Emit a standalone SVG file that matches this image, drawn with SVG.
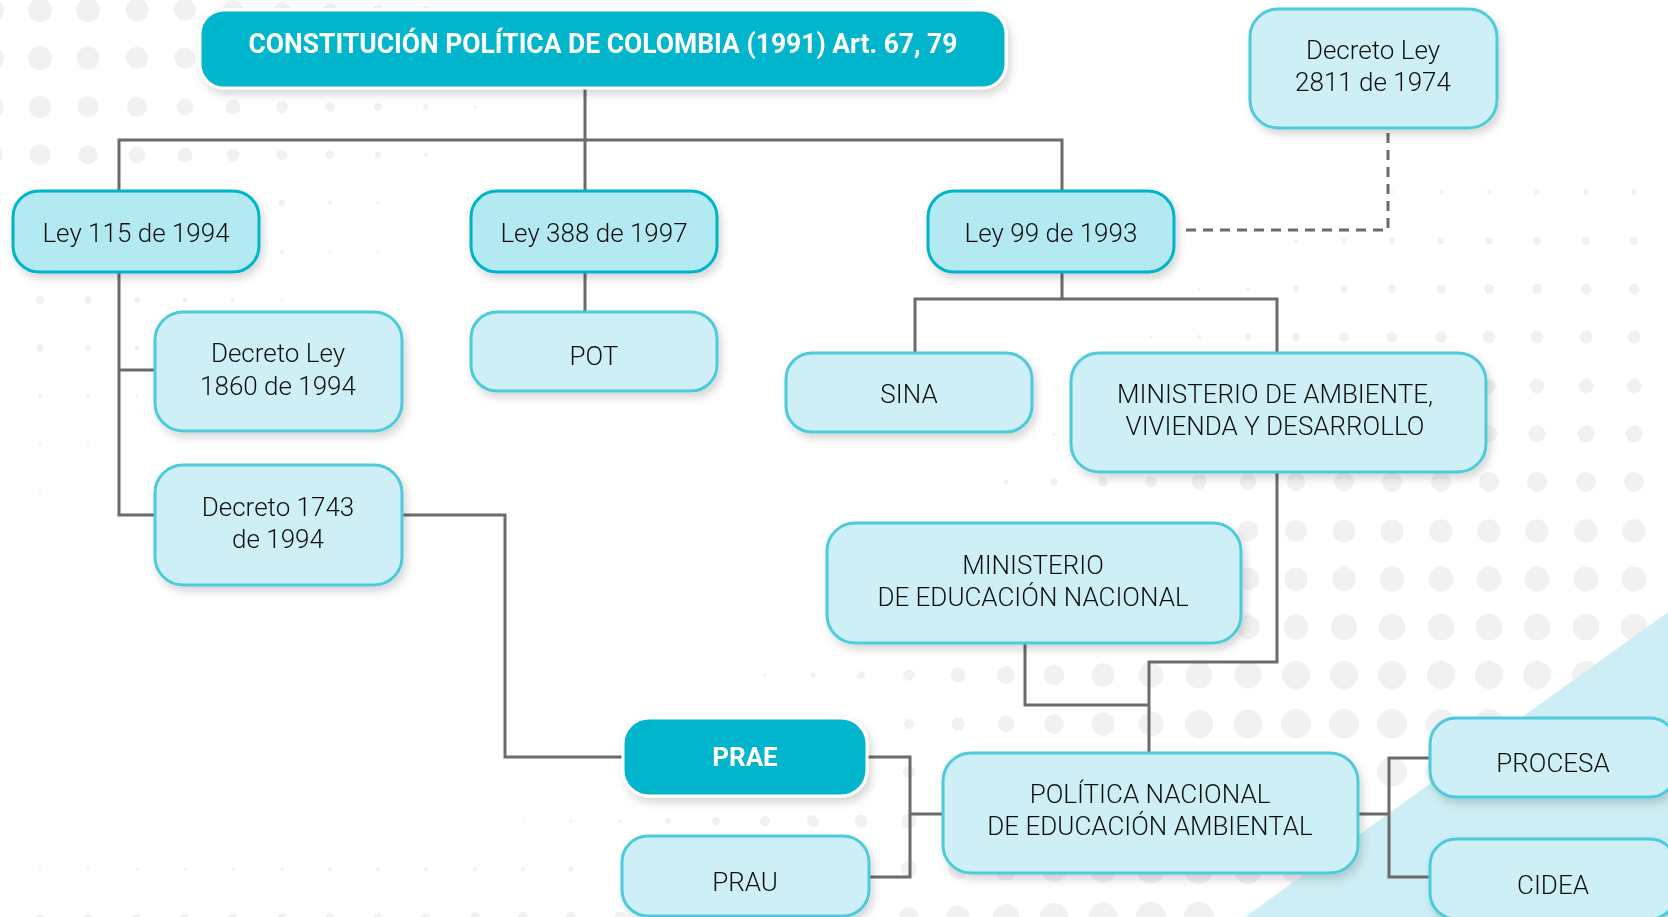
<svg xmlns="http://www.w3.org/2000/svg" width="1668" height="917" viewBox="0 0 1668 917">
<defs>
<filter id="sh" x="-20%" y="-20%" width="140%" height="150%">
<feDropShadow dx="3" dy="5" stdDeviation="4" flood-color="#000" flood-opacity="0.16"/>
</filter>
<style>
.lv1{fill:#b3e9f1;stroke:#00b4ca;stroke-width:3}
.lv2{fill:#cdeff5;stroke:#4dcadb;stroke-width:3}
.dark{fill:#00b5cc;stroke:#ffffff;stroke-width:3}
.t{font-family:Roboto,"Liberation Sans",sans-serif;font-weight:300;font-size:26px;fill:#111111;text-anchor:middle}
.tb{font-family:Roboto,"Liberation Sans",sans-serif;font-weight:700;fill:#ffffff;text-anchor:middle}
.c{fill:none;stroke:#6b6b6b;stroke-width:3}
.d{fill:none;stroke:#6b6b6b;stroke-width:3;stroke-dasharray:10 7}
</style>
</defs>
<rect width="1668" height="917" fill="#ffffff"/>
<g id="background" fill="#f1f1f1">
<circle cx="-8" cy="10" r="12"/><circle cx="40" cy="10" r="12"/><circle cx="88" cy="10" r="12"/><circle cx="137" cy="10" r="11.5"/><circle cx="185" cy="10" r="11"/><circle cx="233" cy="10" r="10"/><circle cx="282" cy="10" r="8"/><circle cx="330" cy="10" r="7"/><circle cx="378" cy="10" r="5.5"/><circle cx="426" cy="10" r="4"/><circle cx="475" cy="10" r="2.5"/>
<circle cx="-8" cy="58" r="12"/><circle cx="40" cy="58" r="12"/><circle cx="88" cy="58" r="11.5"/><circle cx="137" cy="58" r="11"/><circle cx="185" cy="58" r="10.5"/>
<circle cx="-8" cy="107" r="11.5"/><circle cx="40" cy="107" r="11"/><circle cx="88" cy="107" r="10.6"/><circle cx="137" cy="107" r="10"/><circle cx="185" cy="107" r="8.5"/><circle cx="233" cy="107" r="7.5"/><circle cx="282" cy="107" r="6"/><circle cx="330" cy="107" r="5"/><circle cx="378" cy="107" r="4"/><circle cx="426" cy="107" r="2.7"/><circle cx="475" cy="107" r="1.6"/>
<circle cx="-8" cy="155" r="10.5"/><circle cx="40" cy="155" r="10.5"/><circle cx="88" cy="155" r="9.5"/><circle cx="137" cy="155" r="8.5"/><circle cx="185" cy="155" r="7.5"/><circle cx="233" cy="155" r="6.4"/><circle cx="282" cy="155" r="5.3"/><circle cx="330" cy="155" r="4.3"/><circle cx="378" cy="155" r="3.2"/><circle cx="426" cy="155" r="2"/>
<circle cx="-8" cy="203" r="7"/><circle cx="282" cy="203" r="3.5"/><circle cx="330" cy="203" r="2.5"/><circle cx="378" cy="203" r="1.5"/>
<circle cx="282" cy="252" r="2"/><circle cx="330" cy="252" r="1.5"/><circle cx="378" cy="252" r="1"/>
<circle cx="40" cy="300" r="4"/><circle cx="88" cy="300" r="3.5"/><circle cx="137" cy="300" r="3"/><circle cx="185" cy="300" r="2.5"/><circle cx="233" cy="300" r="2"/><circle cx="282" cy="300" r="1.5"/>
<circle cx="40" cy="348" r="3.5"/><circle cx="88" cy="348" r="3"/><circle cx="137" cy="348" r="2.5"/>
<circle cx="40" cy="396" r="2.5"/><circle cx="88" cy="396" r="2"/><circle cx="137" cy="396" r="1.5"/>
<circle cx="40" cy="445" r="1.5"/><circle cx="88" cy="445" r="1.2"/>
<circle cx="40" cy="493" r="1.2"/><circle cx="88" cy="493" r="1"/>
<circle cx="1296" cy="192" r="1"/><circle cx="1344" cy="192" r="1.5"/><circle cx="1392" cy="192" r="1.8"/><circle cx="1441" cy="192" r="2"/><circle cx="1489" cy="192" r="2.3"/><circle cx="1537" cy="192" r="2.5"/><circle cx="1586" cy="192" r="2.7"/><circle cx="1634" cy="192" r="3"/>
<circle cx="1248" cy="241" r="1"/><circle cx="1296" cy="241" r="1.8"/><circle cx="1344" cy="241" r="2.4"/><circle cx="1392" cy="241" r="3"/><circle cx="1441" cy="241" r="3.3"/><circle cx="1489" cy="241" r="3.6"/><circle cx="1537" cy="241" r="3.9"/><circle cx="1586" cy="241" r="4"/><circle cx="1634" cy="241" r="4"/>
<circle cx="1199" cy="289" r="1"/><circle cx="1248" cy="289" r="2"/><circle cx="1296" cy="289" r="3"/><circle cx="1344" cy="289" r="3.8"/><circle cx="1392" cy="289" r="4.4"/><circle cx="1441" cy="289" r="4.8"/><circle cx="1489" cy="289" r="5.1"/><circle cx="1537" cy="289" r="5.3"/><circle cx="1586" cy="289" r="5.3"/><circle cx="1634" cy="289" r="5.3"/>
<circle cx="1151" cy="337" r="1"/><circle cx="1199" cy="337" r="2"/><circle cx="1248" cy="337" r="3.2"/><circle cx="1296" cy="337" r="4.2"/><circle cx="1344" cy="337" r="5"/><circle cx="1392" cy="337" r="5.6"/><circle cx="1441" cy="337" r="6"/><circle cx="1489" cy="337" r="6.3"/><circle cx="1537" cy="337" r="6.3"/><circle cx="1586" cy="337" r="6.5"/><circle cx="1634" cy="337" r="6.5"/>
<circle cx="1054" cy="386" r="1"/><circle cx="1489" cy="386" r="7"/><circle cx="1537" cy="386" r="7.3"/><circle cx="1586" cy="386" r="7.5"/><circle cx="1634" cy="386" r="7.5"/>
<circle cx="1006" cy="434" r="1"/><circle cx="1054" cy="434" r="1.8"/><circle cx="1489" cy="434" r="8.3"/><circle cx="1537" cy="434" r="8.5"/><circle cx="1586" cy="434" r="8.5"/><circle cx="1634" cy="434" r="8.5"/>
<circle cx="1006" cy="482" r="2.5"/><circle cx="1054" cy="482" r="3.7"/><circle cx="1103" cy="482" r="5"/><circle cx="1151" cy="482" r="5.8"/><circle cx="1199" cy="482" r="7.5"/><circle cx="1248" cy="482" r="8.3"/><circle cx="1296" cy="482" r="9.2"/><circle cx="1344" cy="482" r="9.7"/><circle cx="1392" cy="482" r="10"/><circle cx="1441" cy="482" r="10"/><circle cx="1489" cy="482" r="10"/><circle cx="1537" cy="482" r="10"/><circle cx="1586" cy="482" r="10"/><circle cx="1634" cy="482" r="10"/>
<circle cx="1248" cy="531" r="10.3"/><circle cx="1296" cy="531" r="10.8"/><circle cx="1344" cy="531" r="11.3"/><circle cx="1392" cy="531" r="11.7"/><circle cx="1441" cy="531" r="11.7"/><circle cx="1489" cy="531" r="11.7"/><circle cx="1537" cy="531" r="11.7"/><circle cx="1586" cy="531" r="11.7"/><circle cx="1634" cy="531" r="11.7"/>
<circle cx="1248" cy="579" r="11.3"/><circle cx="1296" cy="579" r="11.7"/><circle cx="1344" cy="579" r="12"/><circle cx="1392" cy="579" r="12.5"/><circle cx="1441" cy="579" r="12.5"/><circle cx="1489" cy="579" r="12.5"/><circle cx="1537" cy="579" r="12.5"/><circle cx="1586" cy="579" r="12.5"/><circle cx="1634" cy="579" r="12.5"/>
<circle cx="1248" cy="627" r="12"/><circle cx="1296" cy="627" r="12.5"/><circle cx="1344" cy="627" r="13"/><circle cx="1392" cy="627" r="13.3"/><circle cx="1441" cy="627" r="13.3"/><circle cx="1489" cy="627" r="13.3"/><circle cx="1537" cy="627" r="13.3"/><circle cx="1586" cy="627" r="13.3"/><circle cx="1634" cy="627" r="13.3"/>
<circle cx="765" cy="675" r="1.5"/><circle cx="813" cy="675" r="2.5"/><circle cx="861" cy="675" r="3.7"/><circle cx="909" cy="675" r="5.8"/><circle cx="958" cy="675" r="7.5"/><circle cx="1006" cy="675" r="9"/><circle cx="1054" cy="675" r="10.3"/><circle cx="1103" cy="675" r="11.7"/><circle cx="1151" cy="675" r="12.5"/><circle cx="1199" cy="675" r="13.3"/><circle cx="1248" cy="675" r="13.7"/><circle cx="1296" cy="675" r="14"/><circle cx="1344" cy="675" r="14"/><circle cx="1392" cy="675" r="14"/><circle cx="1441" cy="675" r="14"/><circle cx="1489" cy="675" r="14"/><circle cx="1537" cy="675" r="14"/><circle cx="1586" cy="675" r="14"/>
<circle cx="909" cy="724" r="5"/><circle cx="958" cy="724" r="6.5"/><circle cx="1006" cy="724" r="8.3"/><circle cx="1054" cy="724" r="10"/><circle cx="1103" cy="724" r="11.5"/><circle cx="1151" cy="724" r="12.5"/><circle cx="1199" cy="724" r="14"/><circle cx="1248" cy="724" r="14.5"/><circle cx="1296" cy="724" r="15"/><circle cx="1344" cy="724" r="15"/><circle cx="1392" cy="724" r="15"/><circle cx="1441" cy="724" r="15"/><circle cx="1489" cy="724" r="15"/>
<circle cx="909" cy="772" r="6"/><circle cx="1392" cy="772" r="15"/><circle cx="1441" cy="772" r="15"/>
<circle cx="523" cy="821" r="1"/><circle cx="571" cy="821" r="1.5"/><circle cx="620" cy="821" r="2"/><circle cx="668" cy="821" r="3"/><circle cx="716" cy="821" r="4"/><circle cx="765" cy="821" r="5"/><circle cx="813" cy="821" r="6"/><circle cx="861" cy="821" r="6.5"/><circle cx="909" cy="821" r="7.5"/>
<circle cx="40" cy="869" r="1.3"/><circle cx="88" cy="869" r="1.4"/><circle cx="137" cy="869" r="1.5"/><circle cx="185" cy="869" r="1.6"/><circle cx="233" cy="869" r="1.7"/><circle cx="282" cy="869" r="1.8"/><circle cx="330" cy="869" r="1.9"/><circle cx="378" cy="869" r="2"/><circle cx="426" cy="869" r="2.1"/><circle cx="475" cy="869" r="2.2"/><circle cx="523" cy="869" r="2.3"/><circle cx="571" cy="869" r="2.5"/><circle cx="909" cy="869" r="8"/><circle cx="958" cy="869" r="10"/><circle cx="1006" cy="869" r="11.5"/><circle cx="1054" cy="869" r="13"/><circle cx="1103" cy="869" r="14"/><circle cx="1151" cy="869" r="14.5"/><circle cx="1199" cy="869" r="15"/><circle cx="1248" cy="869" r="15"/><circle cx="1296" cy="869" r="15"/>
<circle cx="40" cy="917" r="3"/><circle cx="88" cy="917" r="3.2"/><circle cx="137" cy="917" r="3.4"/><circle cx="185" cy="917" r="3.6"/><circle cx="233" cy="917" r="3.8"/><circle cx="282" cy="917" r="4"/><circle cx="330" cy="917" r="4.2"/><circle cx="378" cy="917" r="4.4"/><circle cx="426" cy="917" r="4.6"/><circle cx="475" cy="917" r="4.8"/><circle cx="523" cy="917" r="5"/><circle cx="571" cy="917" r="5.3"/><circle cx="620" cy="917" r="5.6"/><circle cx="909" cy="917" r="10"/><circle cx="958" cy="917" r="11.5"/><circle cx="1006" cy="917" r="13"/><circle cx="1054" cy="917" r="14"/><circle cx="1103" cy="917" r="14.5"/><circle cx="1151" cy="917" r="15"/><circle cx="1199" cy="917" r="15"/>
<polygon points="1668,612 1245,917 1668,917" fill="#cdeef5"/>
</g>
<g id="connectors">
<path class="c" d="M585,89 V140 M119,191 V140 H1062 V191 M585,140 V191"/>
<path class="c" d="M119,272 V515 H155 M119,370 H155"/>
<path class="c" d="M585,272 V312"/>
<path class="c" d="M1062,272 V299 M915,353 V299 H1277 V353"/>
<path class="d" d="M1186,230 H1388 V133"/>
<path class="c" d="M1277,472 V662 H1149 V753"/>
<path class="c" d="M1025,643 V705 H1149"/>
<path class="c" d="M402,515 H505 V757 H623"/>
<path class="c" d="M867,757 H910 V877 H869 M910,814 H943"/>
<path class="c" d="M1358,814 H1389 M1430,758 H1389 V877 H1430"/>
</g>
<g id="n-constitucion" filter="url(#sh)">
<rect class="dark" x="200" y="10" width="806" height="78" rx="24"/>
<text class="tb" x="603" y="53" font-size="27" textLength="709" lengthAdjust="spacingAndGlyphs">CONSTITUCIÓN POLÍTICA DE COLOMBIA (1991) Art. 67, 79</text>
</g>
<g id="n-decreto2811" filter="url(#sh)">
<rect class="lv2" x="1250" y="9" width="247" height="119" rx="28"/>
<text class="t" x="1373" y="59">Decreto Ley</text>
<text class="t" x="1373" y="91">2811 de 1974</text>
</g>
<g id="n-ley115" filter="url(#sh)">
<rect class="lv1" x="13" y="191" width="246" height="81" rx="26"/>
<text class="t" x="136" y="242">Ley 115 de 1994</text>
</g>
<g id="n-ley388" filter="url(#sh)">
<rect class="lv1" x="471" y="191" width="246" height="81" rx="26"/>
<text class="t" x="594" y="242">Ley 388 de 1997</text>
</g>
<g id="n-ley99" filter="url(#sh)">
<rect class="lv1" x="928" y="191" width="246" height="81" rx="26"/>
<text class="t" x="1051" y="242">Ley 99 de 1993</text>
</g>
<g id="n-decreto1860" filter="url(#sh)">
<rect class="lv2" x="155" y="312" width="247" height="119" rx="28"/>
<text class="t" x="278" y="362">Decreto Ley</text>
<text class="t" x="278" y="395">1860 de 1994</text>
</g>
<g id="n-decreto1743" filter="url(#sh)">
<rect class="lv2" x="155" y="465" width="247" height="120" rx="28"/>
<text class="t" x="278" y="516">Decreto 1743</text>
<text class="t" x="278" y="548">de 1994</text>
</g>
<g id="n-pot" filter="url(#sh)">
<rect class="lv2" x="471" y="312" width="246" height="79" rx="26"/>
<text class="t" x="594" y="365">POT</text>
</g>
<g id="n-sina" filter="url(#sh)">
<rect class="lv2" x="786" y="353" width="246" height="79" rx="26"/>
<text class="t" x="909" y="403">SINA</text>
</g>
<g id="n-minambiente" filter="url(#sh)">
<rect class="lv2" x="1071" y="353" width="415" height="119" rx="28"/>
<text class="t" x="1275" y="403">MINISTERIO DE AMBIENTE,</text>
<text class="t" x="1275" y="435">VIVIENDA Y DESARROLLO</text>
</g>
<g id="n-mineducacion" filter="url(#sh)">
<rect class="lv2" x="827" y="523" width="414" height="120" rx="28"/>
<text class="t" x="1033" y="574">MINISTERIO</text>
<text class="t" x="1033" y="606">DE EDUCACIÓN NACIONAL</text>
</g>
<g id="n-prae" filter="url(#sh)">
<rect class="dark" x="623" y="718" width="244" height="78" rx="26"/>
<text class="tb" x="745" y="766" font-size="26">PRAE</text>
</g>
<g id="n-prau" filter="url(#sh)">
<rect class="lv2" x="622" y="836" width="247" height="80" rx="26"/>
<text class="t" x="745" y="891">PRAU</text>
</g>
<g id="n-politica" filter="url(#sh)">
<rect class="lv2" x="943" y="753" width="415" height="120" rx="28"/>
<text class="t" x="1150" y="803">POLÍTICA NACIONAL</text>
<text class="t" x="1150" y="835">DE EDUCACIÓN AMBIENTAL</text>
</g>
<g id="n-procesa" filter="url(#sh)">
<rect class="lv2" x="1430" y="718" width="246" height="79" rx="26"/>
<text class="t" x="1553" y="772">PROCESA</text>
</g>
<g id="n-cidea" filter="url(#sh)">
<rect class="lv2" x="1430" y="839" width="246" height="80" rx="26"/>
<text class="t" x="1553" y="894">CIDEA</text>
</g>
</svg>
